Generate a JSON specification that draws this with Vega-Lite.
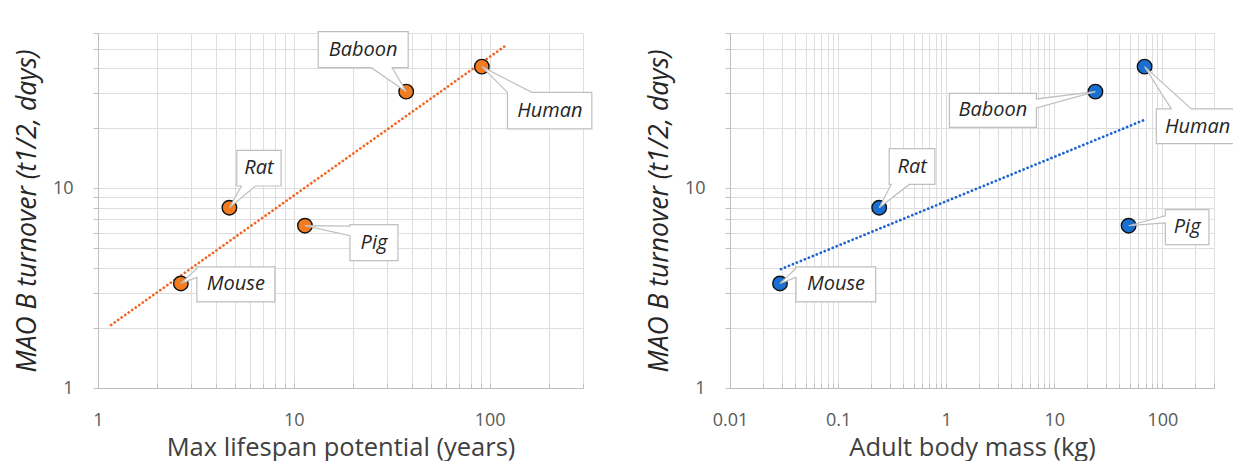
{
  "$schema": "https://vega.github.io/schema/vega-lite/v6.json",
  "background": "white",
  "padding": {"left": 14, "top": 24, "right": 0, "bottom": 0},
  "bounds": "flush",
  "spacing": 147,
  "resolve": {"scale": {"x": "independent", "y": "independent", "shape": "independent"}},
  "config": {
    "view": {"stroke": null},
    "font": "Open Sans",
    "axis": {
      "gridColor": "#dedede",
      "gridWidth": 1,
      "domainColor": "#bfbfbf",
      "tickColor": "#bfbfbf",
      "labelFont": "Open Sans",
      "labelFontSize": 18,
      "labelColor": "#595959",
      "titleFont": "Open Sans",
      "titleFontWeight": "normal",
      "titleColor": "#404040",
      "titleFontSize": 25.5,
      "labelFlush": false,
      "labelOverlap": false
    }
  },
  "datasets": {
    "animals": [
      {"animal": "Mouse", "lifespan": 2.65, "mass": 0.029, "turnover": 3.34},
      {"animal": "Rat", "lifespan": 4.69, "mass": 0.24, "turnover": 8.0},
      {"animal": "Pig", "lifespan": 11.4, "mass": 48.7, "turnover": 6.5},
      {"animal": "Baboon", "lifespan": 37.5, "mass": 24, "turnover": 30.5},
      {"animal": "Human", "lifespan": 91.3, "mass": 68.4, "turnover": 40.7}
    ],
    "trendL": [
      {"lifespan": 1.167, "turnover": 2.07},
      {"lifespan": 120.9, "turnover": 51.9}
    ],
    "trendR": [
      {"mass": 0.0296, "turnover": 3.94},
      {"mass": 68.4, "turnover": 22.05}
    ]
  },
  "hconcat": [
    {
      "width": 485,
      "height": 355,
      "encoding": {
        "x": {
          "field": "lifespan", "type": "quantitative",
          "scale": {"type": "log", "domain": [1, 300], "nice": false},
          "axis": {
            "title": "Max lifespan potential (years)",
            "values": [1,2,3,4,5,6,7,8,9,10,20,30,40,50,60,70,80,90,100,200,300],
            "format": "~g",
            "labelExpr": "datum.value == 1 || datum.value == 10 || datum.value == 100 ? datum.label : ''",
            "tickSize": -5,
            "labelPadding": 28,
            "titlePadding": 6
          }
        },
        "y": {
          "field": "turnover", "type": "quantitative",
          "scale": {"type": "log", "domain": [1, 60], "nice": false},
          "axis": {
            "title": "MAO B turnover (t1/2, days)",
            "titleFontStyle": "italic",
            "titleColor": "#262626",
            "titleFontSize": 26.5,
            "values": [1,2,3,4,5,6,7,8,9,10,20,30,40,50,60],
            "format": "~g",
            "labelExpr": "datum.value == 1 || datum.value == 10 ? datum.label : ''",
            "tickSize": 5,
            "labelPadding": 20,
            "titlePadding": 11
          }
        }
      },
      "layer": [
        {
          "data": {"name": "trendL"},
          "mark": {"type": "line", "color": "#f26522", "strokeWidth": 2.7, "strokeDash": [0.1, 4.2], "strokeCap": "round"}
        },
        {
          "data": {"name": "animals"},
          "mark": {"type": "point", "filled": true, "size": 210, "color": "#f47c20", "stroke": "#111111", "strokeWidth": 1.4, "opacity": 1}
        },
        {
          "data": {"name": "animals"},
          "mark": {"type": "point", "filled": true, "size": 40000, "color": "white", "stroke": "#bfbfbf", "strokeWidth": 1.2, "opacity": 1},
          "encoding": {
            "shape": {
              "field": "animal", "type": "nominal", "legend": null,
              "scale": {
                "domain": ["Mouse", "Rat", "Pig", "Baboon", "Human"],
                "range": [
                  "M0.16,-0.166H0.94V0.184H0.16V-0.06L0,0L0.16,-0.15Z",
                  "M0.074,-0.574H0.517V-0.217H0.26L0,0L0.12,-0.217H0.074Z",
                  "M0.45,-0.01H0.93V0.35H0.45V0.10L0,0L0.45,0.005Z",
                  "M-0.88,-0.60H0.02V-0.24H-0.14L0,0L-0.35,-0.24H-0.88Z",
                  "M0.256,0.257L0,0L0.50,0.257H1.10V0.623H0.256Z"
                ]
              }
            }
          }
        },
        {
          "data": {"name": "animals"},
          "transform": [{"filter": "datum.animal == 'Mouse'"}],
          "mark": {"type": "text", "dx": 55, "dy": 1, "fontStyle": "italic", "fontSize": 20, "font": "Open Sans", "color": "#262626", "align": "center", "baseline": "middle"},
          "encoding": {"text": {"field": "animal"}}
        },
        {
          "data": {"name": "animals"},
          "transform": [{"filter": "datum.animal == 'Rat'"}],
          "mark": {"type": "text", "dx": 29.5, "dy": -39.5, "fontStyle": "italic", "fontSize": 20, "font": "Open Sans", "color": "#262626", "align": "center", "baseline": "middle"},
          "encoding": {"text": {"field": "animal"}}
        },
        {
          "data": {"name": "animals"},
          "transform": [{"filter": "datum.animal == 'Pig'"}],
          "mark": {"type": "text", "dx": 69, "dy": 17, "fontStyle": "italic", "fontSize": 20, "font": "Open Sans", "color": "#262626", "align": "center", "baseline": "middle"},
          "encoding": {"text": {"field": "animal"}}
        },
        {
          "data": {"name": "animals"},
          "transform": [{"filter": "datum.animal == 'Baboon'"}],
          "mark": {"type": "text", "dx": -43, "dy": -42, "fontStyle": "italic", "fontSize": 20, "font": "Open Sans", "color": "#262626", "align": "center", "baseline": "middle"},
          "encoding": {"text": {"field": "animal"}}
        },
        {
          "data": {"name": "animals"},
          "transform": [{"filter": "datum.animal == 'Human'"}],
          "mark": {"type": "text", "dx": 68, "dy": 44, "fontStyle": "italic", "fontSize": 20, "font": "Open Sans", "color": "#262626", "align": "center", "baseline": "middle"},
          "encoding": {"text": {"field": "animal"}}
        },
        {
          "data": {"values": [{}]},
          "mark": {"type": "text", "align": "right", "baseline": "middle", "fontSize": 16.5, "font": "Open Sans", "color": "#404040"},
          "encoding": {
            "x": {"datum": 274},
            "y": {"datum": 1.46},
            "text": {"value": "R² = 0.9065"}
          }
        }
      ]
    },
    {
      "width": 484,
      "height": 355,
      "encoding": {
        "x": {
          "field": "mass", "type": "quantitative",
          "scale": {"type": "log", "domain": [0.01, 300], "nice": false},
          "axis": {
            "title": "Adult body mass (kg)",
            "values": [0.01,0.02,0.03,0.04,0.05,0.06,0.07,0.08,0.09,0.1,0.2,0.3,0.4,0.5,0.6,0.7,0.8,0.9,1,2,3,4,5,6,7,8,9,10,20,30,40,50,60,70,80,90,100,200,300],
            "format": "~g",
            "labelExpr": "datum.value == 0.01 || datum.value == 0.1 || datum.value == 1 || datum.value == 10 || datum.value == 100 ? datum.label : ''",
            "tickSize": -5,
            "labelPadding": 28,
            "titlePadding": 6
          }
        },
        "y": {
          "field": "turnover", "type": "quantitative",
          "scale": {"type": "log", "domain": [1, 60], "nice": false},
          "axis": {
            "title": "MAO B turnover (t1/2, days)",
            "titleFontStyle": "italic",
            "titleColor": "#262626",
            "titleFontSize": 26.5,
            "values": [1,2,3,4,5,6,7,8,9,10,20,30,40,50,60],
            "format": "~g",
            "labelExpr": "datum.value == 1 || datum.value == 10 ? datum.label : ''",
            "tickSize": 5,
            "labelPadding": 20,
            "titlePadding": 11
          }
        }
      },
      "layer": [
        {
          "data": {"name": "trendR"},
          "mark": {"type": "line", "color": "#1b63d4", "strokeWidth": 2.7, "strokeDash": [0.1, 4.2], "strokeCap": "round"}
        },
        {
          "data": {"name": "animals"},
          "mark": {"type": "point", "filled": true, "size": 210, "color": "#1a6fd3", "stroke": "#111111", "strokeWidth": 1.4, "opacity": 1}
        },
        {
          "data": {"name": "animals"},
          "mark": {"type": "point", "filled": true, "size": 40000, "color": "white", "stroke": "#bfbfbf", "strokeWidth": 1.2, "opacity": 1},
          "encoding": {
            "shape": {
              "field": "animal", "type": "nominal", "legend": null,
              "scale": {
                "domain": ["Mouse", "Rat", "Pig", "Baboon", "Human"],
                "range": [
                  "M0.16,-0.166H0.957V0.184H0.16V-0.06L0,0L0.16,-0.15Z",
                  "M0.10,-0.59H0.557V-0.233H0.30L0,0L0.12,-0.233H0.10Z",
                  "M0.367,-0.16H0.803V0.19H0.367V-0.027L0,0L0.367,-0.10Z",
                  "M-1.46,0.017H-0.59V0.073L0,0L-0.59,0.163V0.357H-1.46Z",
                  "M0.117,0.423H0.267L0,0L0.467,0.423H1.05V0.77H0.117Z"
                ]
              }
            }
          }
        },
        {
          "data": {"name": "animals"},
          "transform": [{"filter": "datum.animal == 'Mouse'"}],
          "mark": {"type": "text", "dx": 56, "dy": 1, "fontStyle": "italic", "fontSize": 20, "font": "Open Sans", "color": "#262626", "align": "center", "baseline": "middle"},
          "encoding": {"text": {"field": "animal"}}
        },
        {
          "data": {"name": "animals"},
          "transform": [{"filter": "datum.animal == 'Rat'"}],
          "mark": {"type": "text", "dx": 33, "dy": -41, "fontStyle": "italic", "fontSize": 20, "font": "Open Sans", "color": "#262626", "align": "center", "baseline": "middle"},
          "encoding": {"text": {"field": "animal"}}
        },
        {
          "data": {"name": "animals"},
          "transform": [{"filter": "datum.animal == 'Pig'"}],
          "mark": {"type": "text", "dx": 58.5, "dy": 1.5, "fontStyle": "italic", "fontSize": 20, "font": "Open Sans", "color": "#262626", "align": "center", "baseline": "middle"},
          "encoding": {"text": {"field": "animal"}}
        },
        {
          "data": {"name": "animals"},
          "transform": [{"filter": "datum.animal == 'Baboon'"}],
          "mark": {"type": "text", "dx": -102.5, "dy": 18.7, "fontStyle": "italic", "fontSize": 20, "font": "Open Sans", "color": "#262626", "align": "center", "baseline": "middle"},
          "encoding": {"text": {"field": "animal"}}
        },
        {
          "data": {"name": "animals"},
          "transform": [{"filter": "datum.animal == 'Human'"}],
          "mark": {"type": "text", "dx": 53, "dy": 60, "fontStyle": "italic", "fontSize": 20, "font": "Open Sans", "color": "#262626", "align": "center", "baseline": "middle"},
          "encoding": {"text": {"field": "animal"}}
        },
        {
          "data": {"values": [{}]},
          "mark": {"type": "text", "align": "right", "baseline": "middle", "fontSize": 16.5, "font": "Open Sans", "color": "#404040"},
          "encoding": {
            "x": {"datum": 236},
            "y": {"datum": 1.46},
            "text": {"value": "R² = 0.5466"}
          }
        }
      ]
    }
  ]
}
